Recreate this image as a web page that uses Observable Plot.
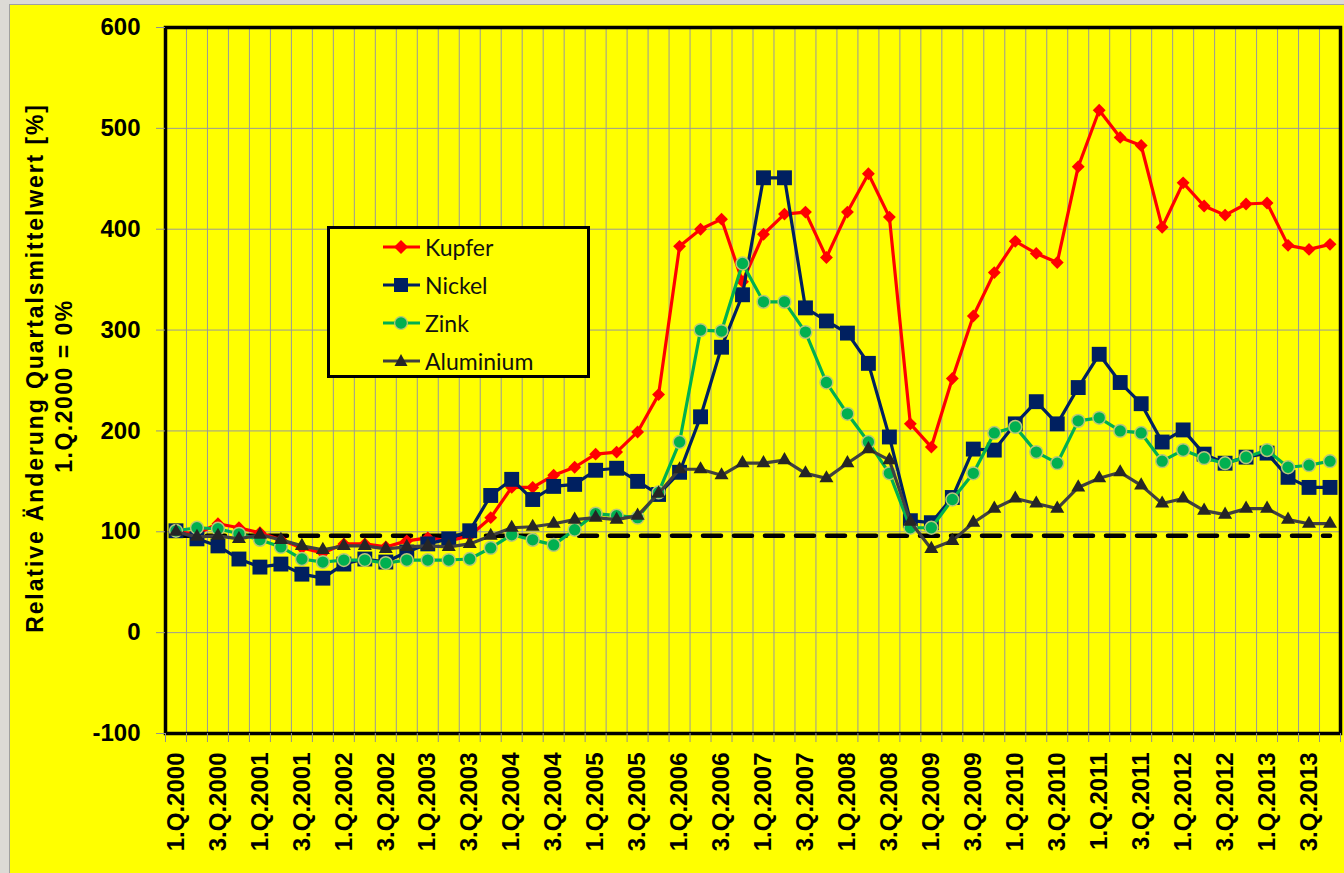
<!DOCTYPE html>
<html>
<head>
<meta charset="utf-8">
<script src="https://cdn.jsdelivr.net/npm/d3@7"></script>
<script src="https://cdn.jsdelivr.net/npm/@observablehq/plot@0.6"></script>
<style>
  html, body { margin: 0; padding: 0; width: 1344px; height: 873px; overflow: hidden; background: #dcdad5; }
  #bg { position: absolute; left: 9px; top: 4px; width: 1335px; height: 869px; background: #FFFF00; border-left: 1px solid #a0a0a0; border-top: 1px solid #a0a0a0; }
  #chart { position: absolute; left: 0; top: 0; }
  #ytitle { position: absolute; left: 0; top: 0; }
  #legend { position: absolute; left: 327px; top: 226px; width: 257px; height: 146px; border: 3px solid #000; background: #FFFF00; font-family: Lato, "Open Sans", sans-serif; font-size: 23px; color: #111; }
  .entry { position: absolute; left: 52px; height: 30px; display: flex; align-items: center; }
  .entry svg { margin-right: 3px; }
</style>
</head>
<body>
<div id="bg"></div>
<div id="chart"></div>
<svg id="ytitle" width="110" height="873">
  <text transform="translate(35,368) rotate(-90)" text-anchor="middle" dominant-baseline="central" font-family="Liberation Sans, Arial, sans-serif" font-weight="bold" font-size="23" letter-spacing="1.9">Relative Änderung Quartalsmittelwert [%]</text>
  <text transform="translate(64,386) rotate(-90)" text-anchor="middle" dominant-baseline="central" font-family="Liberation Sans, Arial, sans-serif" font-weight="bold" font-size="23" letter-spacing="1.5">1.Q.2000 = 0%</text>
</svg>
<div id="legend"></div>
<script>
// ---- data ----
const years = [2000, 2001, 2002, 2003, 2004, 2005, 2006, 2007, 2008, 2009, 2010, 2011, 2012, 2013];
const quarterNames = ["1.Q", "2.Q", "3.Q", "4.Q"];
const quarters = years.flatMap(y => quarterNames.map(q => `${q}.${y}`));

const kupfer = [100, 98, 108, 104, 99, 92, 84, 79, 88, 88, 85, 91, 94, 91, 96, 114,
  144, 144, 156, 164, 177, 179, 199, 236, 383, 400, 410, 348, 395, 415, 417, 372,
  417, 455, 412, 207, 184, 252, 314, 357, 388, 376, 367, 462, 518, 491, 483, 402,
  446, 423, 414, 425, 426, 384, 380, 385];
const nickel = [101, 93, 86, 73, 65, 68, 58, 54, 68, 73, 70, 80, 88, 93, 101, 136,
  152, 132, 145, 147, 161, 163, 150, 137, 159, 214, 283, 335, 451, 451, 322, 309,
  297, 267, 194, 111, 109, 134, 182, 181, 207, 229, 207, 243, 276, 248, 227, 189,
  201, 177, 168, 174, 178, 154, 144, 144];
const zink = [101, 104, 103, 98, 92, 85, 73, 70, 72, 72, 69, 72, 72, 72, 73, 84,
  97, 92, 87, 102, 118, 116, 114, 139, 189, 300, 299, 366, 328, 328, 298, 248,
  217, 189, 158, 104, 104, 132, 158, 198, 204, 179, 168, 210, 213, 200, 198, 170,
  181, 173, 168, 174, 181, 164, 166, 170];
const aluminium = [100, 95, 96, 93, 97, 92, 86, 82, 86, 86, 83, 85, 86, 85, 88, 96,
  104, 105, 108, 112, 114, 112, 116, 138, 162, 162, 156, 168, 168, 171, 158, 153,
  168, 182, 171, 110, 83, 91, 109, 123, 133, 128, 123, 144, 153, 159, 146, 128,
  133, 121, 117, 123, 123, 112, 108, 108];
const referenceLevel = 96;
const yTicks = [-100, 0, 100, 200, 300, 400, 500, 600];

const seriesDefs = [
  {name: "Kupfer", values: kupfer, color: "#FF0000", symbol: "diamond2", r: 5.8, markFill: "#FF0000", markStroke: "none"},
  {name: "Nickel", values: nickel, color: "#002060", symbol: "square", r: 8.4, markFill: "#002060", markStroke: "none"},
  {name: "Zink", values: zink, color: "#00B050", symbol: "circle", r: 6.4, markFill: "#00B050", markStroke: "#b9c77a"},
  {name: "Aluminium", values: aluminium, color: "#404040", symbol: "triangle", r: 5.2, markFill: "#262626", markStroke: "none"}
];

const idx = quarters.map((_, i) => i);
const boundaries = idx.slice(0, -1).map(i => i + 0.5);
const labelIdx = idx.filter(i => i % 2 === 0);
const refRows = idx.map(i => ({i, v: referenceLevel}));

const marks = [
  Plot.gridY(yTicks.filter(v => v > -100 && v < 600), {stroke: "#999", strokeOpacity: 1, strokeWidth: 1}),
  Plot.gridX(boundaries, {stroke: "#999", strokeOpacity: 1, strokeWidth: 1}),
  Plot.line(refRows, {x: "i", y: "v", stroke: "#000", strokeWidth: 4.5, strokeDasharray: "18,13"})
];
for (const s of seriesDefs) {
  const rows = s.values.map((v, i) => ({i, v}));
  marks.push(Plot.line(rows, {x: "i", y: "v", stroke: s.color, strokeWidth: 3.2}));
  marks.push(Plot.dot(rows, {x: "i", y: "v", symbol: () => s.symbol, r: s.r, fill: s.markFill, stroke: s.markStroke, strokeWidth: 1.5}));
}
marks.push(
  Plot.frame({stroke: "#000", strokeWidth: 3.5}),
  Plot.axisY(yTicks, {label: null, tickSize: 9, tickPadding: 16, stroke: "#909090", fill: "#000", fontSize: 24, fontWeight: "bold", tickFormat: d => String(d)}),
  Plot.axisX(boundaries.concat([-0.5, 55.5]), {label: null, tickSize: 9, stroke: "#909090", tickFormat: () => ""}),
  Plot.axisX(labelIdx, {label: null, tickSize: 0, tickPadding: 19, tickRotate: -90, tickFormat: i => quarters[i], fontSize: 24, fontWeight: "bold", fill: "#000"})
);

const chart = Plot.plot({
  width: 1344,
  height: 873,
  marginLeft: 165,
  marginRight: 4,
  marginTop: 27,
  marginBottom: 140,
  x: {type: "linear", domain: [-0.5, quarters.length - 0.5], axis: null, label: null},
  y: {domain: [-100, 600], axis: null, label: null},
  symbol: {type: "identity"},
  style: {background: "transparent", fontFamily: "Liberation Sans, Arial, sans-serif", fontSize: "24px", color: "#000"},
  marks
});
document.getElementById("chart").appendChild(chart);

// legend
const legend = document.getElementById("legend");
seriesDefs.forEach((s, k) => {
  const e = document.createElement("div");
  e.className = "entry";
  e.style.top = (3 + k * 38) + "px";
  let marker = "";
  if (s.symbol === "diamond2") marker = `<path d="M19,3 L26,10 L19,17 L12,10 Z" fill="${s.markFill}"/>`;
  else if (s.symbol === "square") marker = `<rect x="12" y="3" width="14" height="14" fill="${s.markFill}"/>`;
  else if (s.symbol === "circle") marker = `<circle cx="19" cy="10" r="6.4" fill="${s.markFill}" stroke="${s.markStroke}" stroke-width="1.2"/>`;
  else marker = `<path d="M19,3 L25.5,15 L12.5,15 Z" fill="${s.markFill}"/>`;
  e.innerHTML = `<svg width="40" height="20"><line x1="1" y1="10" x2="38" y2="10" stroke="${s.color}" stroke-width="3.2"/>${marker}</svg><span>${s.name}</span>`;
  legend.appendChild(e);
});
</script>
</body>
</html>
